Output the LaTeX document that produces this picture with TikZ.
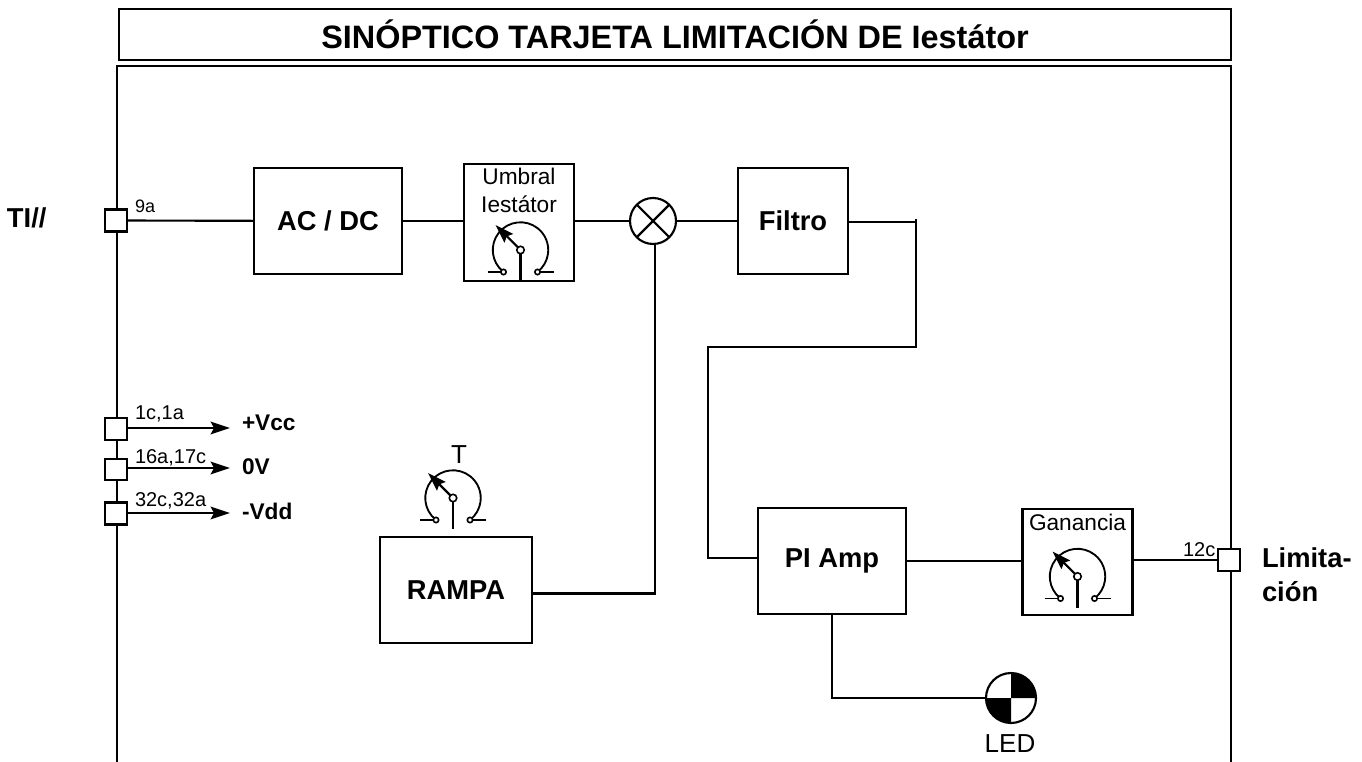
\documentclass[tikz,border=0pt]{standalone}
\usepackage{fontspec}
\setmainfont{Liberation Sans}
\usetikzlibrary{arrows.meta}
\begin{document}
\begin{tikzpicture}[x=0.75pt,y=-0.75pt,inner sep=0pt,outer sep=0pt,line width=1.6pt,
bigblock/.style={draw,rectangle,minimum width=111pt,minimum height=79.5pt,font=\fontsize{20.5}{24}\selectfont\bfseries},
smallblock/.style={draw,rectangle,minimum width=82.5pt,minimum height=79.5pt},
port/.style={draw,rectangle,fill=white,minimum width=16.5pt,minimum height=16.5pt},
pinlabel/.style={anchor=base west,font=\fontsize{15}{18}\selectfont},
knoblabel/.style={anchor=base,align=center,font=\fontsize{17}{21}\selectfont},
siglabel/.style={anchor=base west,align=left,font=\fontsize{17}{21}\selectfont\bfseries},
supply/.style={-{Stealth[length=14.5pt,width=9.5pt,inset=2.5pt]}},
potmeter/.pic={
\draw[line width=1.4pt] (-17.3,21.7) arc[start angle=231.4,end angle=-51.4,radius=20.8pt];
\draw[line width=1.4pt] (-33,22) -- (-17,22);
\draw[line width=1.4pt] (17,22) -- (33,22);
\draw[line width=1.2pt,fill=white] (-17,22) circle[radius=2pt];
\draw[line width=1.2pt,fill=white] (17,22) circle[radius=2pt];
\draw (0,0) -- (0,31);
\draw[-{Stealth[length=14pt,width=9pt,inset=2pt]}] (0,0) -- (-25,-25);
\draw[line width=1.2pt,fill=white] (0,0) circle[radius=2.8pt];
}]
\useasboundingbox (0,0) rectangle (1362,762);
% frame and title
\draw (117,762) -- (117,66) -- (1231,66) -- (1231,762);
\draw (675,34.5) node[draw,rectangle,minimum width=834pt,minimum height=38pt,font=\fontsize{24.3}{29}\selectfont\bfseries] (title) {SINÓPTICO TARJETA LIMITACIÓN DE Iestátor};
% blocks
\draw (328,221) node[bigblock] (acdc) {AC / DC};
\draw (519,222.5) node[smallblock,minimum height=88pt] (umbral) {};
\draw (653,221) node[draw,circle,minimum size=34.5pt] (sum) {};
\draw (793,221) node[smallblock,font=\fontsize{20.5}{24}\selectfont\bfseries] (filtro) {Filtro};
\draw (456,590) node[bigblock,minimum width=114pt] (rampa) {RAMPA};
\draw (832,561) node[bigblock] (piamp) {PI Amp};
\draw (1077.5,562) node[smallblock] (ganancia) {};
\draw (1011,698) node[draw,circle,minimum size=37.5pt] (led) {};
% ports
\draw (116,220.5) node[port] (p9a) {};
\draw (116,429) node[port] (p1c) {};
\draw (116,469.5) node[port,minimum height=15.5pt] (p16a) {};
\draw (116,513.5) node[port] (p32c) {};
\draw (1229,560) node[port] (p12c) {};
\coordinate (vcc) at (230,428);
\coordinate (zero) at (230,468);
\coordinate (vdd) at (230,513);
\coordinate (bendtop) at (916,219);
\coordinate (bendleft) at (708,347);
% knobs
\draw (520.5,250) pic {potmeter};
\draw (453,498) pic {potmeter};
\draw (1077.5,576.5) pic {potmeter};
% connectors
\draw (p9a) -- (acdc);
\draw (acdc.east) -- (acdc.east -| umbral.west);
\draw (sum.west) -- (sum.west -| umbral.east);
\draw (sum) -- (filtro);
\draw ([yshift=-1pt]filtro.east) -- ([yshift=-1pt]filtro.east -| bendtop);
\draw (bendtop) |- (bendleft) |- ([yshift=2pt]piamp.west);
\draw ([xshift=1.5pt]sum.south) |- ([yshift=-2.6pt]rampa.east);
\draw (piamp.east) -- (piamp.east -| ganancia.west);
\draw (p12c.west) -- (p12c.west -| ganancia.east);
\draw (piamp.south) |- (led.west);
\draw[supply] (p1c.east |- vcc) -- (vcc);
\draw[supply] (p16a.east |- zero) -- (zero);
\draw[supply] (p32c.east |- vdd) -- (vdd);
% sum cross and led quarters
\draw (sum.45) -- (sum.225);
\draw (sum.135) -- (sum.-45);
\fill (led.center) -- (led.north) arc[start angle=90,end angle=0,radius=18.75pt] -- cycle;
\fill (led.center) -- (led.south) arc[start angle=270,end angle=180,radius=18.75pt] -- cycle;
% texts
\node[knoblabel] (umbraltxt) at (519,213) {Umbral\\Iestátor};
\node[knoblabel] (gantxt) at (1077.5,530) {Ganancia};
\node[knoblabel,font=\fontsize{19.5}{23}\selectfont] (ttxt) at (459,463) {T};
\node[knoblabel,font=\fontsize{19.5}{23}\selectfont] (ledtxt) at (1010,752.5) {LED};
\node[pinlabel,font=\fontsize{13.5}{16}\selectfont] (l9a) at (135,213) {9a};
\node[pinlabel] (l1c) at (135,420) {1c,1a};
\node[pinlabel] (l16a) at (135,463) {16a,17c};
\node[pinlabel] (l32c) at (135,506) {32c,32a};
\node[pinlabel] (l12c) at (1183,556) {12c};
\node[siglabel,font=\fontsize{20.5}{26}\selectfont\bfseries] (ti) at (7,228) {TI//};
\node[siglabel] (lvcc) at (242,431) {+Vcc};
\node[siglabel] (lzero) at (242,474) {0V};
\node[siglabel] (lvdd) at (242,519) {-Vdd};
\node[siglabel,font=\fontsize{20.5}{25.5}\selectfont\bfseries] (lim) at (1262,601) {Limita-\\ción};
\end{tikzpicture}
\end{document}
